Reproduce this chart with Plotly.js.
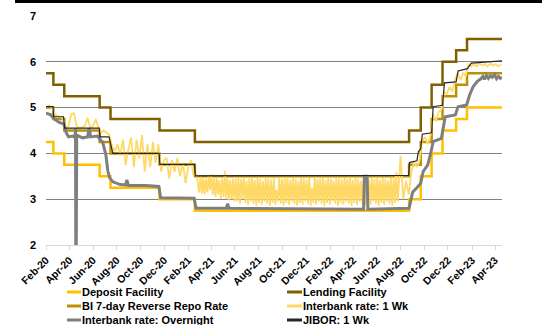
<!DOCTYPE html>
<html>
<head>
<meta charset="utf-8">
<script src="https://cdn.plot.ly/plotly-3.0.1.min.js"></script>
<style>html,body{margin:0;padding:0;background:#fff;}#chart{width:548px;height:325px;}</style>
</head>
<body>
<div id="chart"></div>
<script>
// ---- Policy rates (step changes) ----
const policyDates = ['2020-02-01','2020-02-20','2020-03-19','2020-06-18','2020-07-16','2020-11-19','2021-02-18','2022-08-23','2022-09-22','2022-10-20','2022-11-17','2022-12-22','2023-01-19','2023-04-19'];
const depositFacility = [4.25,4.00,3.75,3.50,3.25,3.00,2.75,3.00,3.50,4.00,4.50,4.75,5.00,5.00];
const lendingFacility = [5.75,5.50,5.25,5.00,4.75,4.50,4.25,4.50,5.00,5.50,6.00,6.25,6.50,6.50];
const reverseRepo    = [5.00,4.75,4.50,4.25,4.00,3.75,3.50,3.75,4.25,4.75,5.25,5.50,5.75,5.75];

// ---- Interbank rate: 1 Wk ----
const ib1wDates = [
'2020-02-03','2020-02-10','2020-02-17','2020-02-24',
'2020-03-02','2020-03-09','2020-03-16','2020-03-23','2020-03-30',
'2020-04-06','2020-04-13','2020-04-20','2020-04-27',
'2020-05-04','2020-05-11','2020-05-18','2020-05-25',
'2020-06-01','2020-06-08','2020-06-15','2020-06-22','2020-06-29',
'2020-07-06','2020-07-13','2020-07-20','2020-07-27',
'2020-08-03','2020-08-10','2020-08-17','2020-08-24','2020-08-31',
'2020-09-07','2020-09-14','2020-09-21','2020-09-28',
'2020-10-05','2020-10-12','2020-10-19','2020-10-26',
'2020-11-02','2020-11-09','2020-11-16','2020-11-23','2020-11-30',
'2020-12-07','2020-12-14','2020-12-21','2020-12-28',
'2021-01-04','2021-01-11','2021-01-18','2021-01-25',
'2021-02-01','2021-02-08','2021-02-15','2021-02-22',
'2021-03-01','2021-03-04','2021-03-08','2021-03-11','2021-03-15','2021-03-18','2021-03-22','2021-03-25','2021-03-29','2021-04-01',
'2021-04-05','2021-04-08','2021-04-12','2021-04-15','2021-04-19','2021-04-22','2021-04-26','2021-04-29',
'2021-05-03','2021-05-06','2021-05-10','2021-05-13','2021-05-17','2021-05-20','2021-05-24','2021-05-27','2021-05-31','2021-06-03',
'2021-06-07','2021-06-10','2021-06-14','2021-06-17','2021-06-21','2021-06-24','2021-06-28','2021-07-01',
'2021-07-05','2021-07-08','2021-07-12','2021-07-15','2021-07-19','2021-07-22','2021-07-26','2021-07-29',
'2021-08-02','2021-08-05','2021-08-09','2021-08-12','2021-08-16','2021-08-19','2021-08-23','2021-08-26','2021-08-30','2021-09-02',
'2021-09-06','2021-09-09','2021-09-13','2021-09-16','2021-09-20','2021-09-23','2021-09-27','2021-09-30',
'2021-10-04','2021-10-07','2021-10-11','2021-10-14','2021-10-18','2021-10-21','2021-10-25','2021-10-28',
'2021-11-01','2021-11-04','2021-11-08','2021-11-11','2021-11-15','2021-11-18','2021-11-22','2021-11-25','2021-11-29','2021-12-02',
'2021-12-06','2021-12-09','2021-12-13','2021-12-16','2021-12-20','2021-12-23','2021-12-27','2021-12-30',
'2022-01-03','2022-01-06','2022-01-10','2022-01-13','2022-01-17','2022-01-20','2022-01-24','2022-01-27','2022-01-31','2022-02-03',
'2022-02-07','2022-02-10','2022-02-14','2022-02-17','2022-02-21','2022-02-24','2022-02-28','2022-03-03',
'2022-03-07','2022-03-10','2022-03-14','2022-03-17','2022-03-21','2022-03-24','2022-03-28','2022-03-31',
'2022-04-04','2022-04-07','2022-04-11','2022-04-14','2022-04-18','2022-04-21','2022-04-25','2022-04-28',
'2022-05-02','2022-05-05','2022-05-09','2022-05-12','2022-05-16','2022-05-19','2022-05-23','2022-05-26','2022-05-30','2022-06-02',
'2022-06-06','2022-06-09','2022-06-13','2022-06-16','2022-06-20','2022-06-23','2022-06-27','2022-06-30',
'2022-07-04','2022-07-07','2022-07-11','2022-07-14','2022-07-18','2022-07-21','2022-07-25','2022-07-28',
'2022-08-01','2022-08-08','2022-08-15','2022-08-22','2022-08-29',
'2022-09-05','2022-09-12','2022-09-19','2022-09-26',
'2022-10-03','2022-10-10','2022-10-17','2022-10-24','2022-10-31',
'2022-11-07','2022-11-14','2022-11-21','2022-11-28',
'2022-12-05','2022-12-12','2022-12-19','2022-12-26',
'2023-01-02','2023-01-09','2023-01-16','2023-01-23','2023-01-30',
'2023-02-06','2023-02-13','2023-02-20','2023-02-27',
'2023-03-06','2023-03-13','2023-03-20','2023-03-27',
'2023-04-03','2023-04-10','2023-04-17'];
const ib1wValues = [
5.02,5.05,4.98,4.85,
4.82,4.80,4.75,4.55,4.60,
4.85,4.88,4.60,4.55,
4.58,4.60,4.78,4.55,
4.60,4.75,4.55,4.45,4.50,
4.45,4.40,4.15,4.05,
4.20,3.95,4.30,3.75,4.10,
4.35,3.70,4.30,3.90,
4.40,3.60,4.20,3.70,
4.25,3.80,4.20,3.60,3.85,
3.90,3.45,3.85,3.60,
3.90,3.50,3.80,3.35,
3.70,3.85,3.50,3.55,
3.15,3.50,3.12,3.48,3.10,3.45,3.15,3.50,3.20,3.55,
3.10,3.45,3.05,3.48,3.10,3.42,3.00,3.45,
3.05,3.62,3.00,3.45,2.98,3.42,3.00,3.45,2.95,3.45,
2.95,3.46,2.90,3.44,3.00,3.47,2.92,3.40,
2.88,3.45,2.95,3.48,2.90,3.42,2.86,3.46,
2.92,3.44,2.88,3.40,2.95,3.47,2.90,3.45,2.86,3.43,
2.92,3.46,2.88,3.20,2.95,3.47,2.90,3.44,
2.86,3.45,2.92,3.48,2.88,3.42,2.95,3.46,
2.90,3.44,2.86,3.40,2.92,3.47,2.88,3.45,2.95,3.43,
2.90,3.46,2.86,3.25,2.92,3.47,2.88,3.44,
2.95,3.45,2.90,3.48,2.86,3.42,2.92,3.46,2.88,3.44,
2.95,3.40,2.90,3.47,2.86,3.45,2.92,3.43,
2.88,3.46,2.95,3.44,2.90,3.48,2.86,3.42,
2.92,3.46,2.88,3.44,2.95,3.40,2.90,3.47,
2.86,3.45,2.92,3.43,2.88,3.46,2.95,3.44,2.90,3.48,
2.86,3.42,2.92,3.46,2.88,3.44,2.95,3.40,
2.90,3.47,2.86,3.45,2.92,3.60,2.95,3.30,
3.95,3.00,3.40,3.10,3.60,
3.80,3.70,3.85,4.30,
4.35,4.20,4.40,4.85,4.70,
4.90,4.95,5.35,5.30,
5.45,5.35,5.60,5.75,
5.60,5.75,5.70,5.95,5.90,
5.95,5.90,5.97,5.92,
5.95,5.90,5.96,5.92,
5.95,5.90,5.95];

// ---- Interbank rate: Overnight ----
const onDates = ['2020-02-01','2020-02-12','2020-02-21','2020-03-05','2020-03-18','2020-03-24','2020-03-30','2020-04-10','2020-04-16','2020-04-17','2020-04-18','2020-04-20','2020-05-05','2020-05-18','2020-05-22','2020-05-26','2020-06-12','2020-06-19','2020-06-26','2020-07-04','2020-07-09','2020-07-14','2020-07-22','2020-08-10','2020-08-24','2020-08-27','2020-08-31','2020-10-15','2020-11-17','2020-11-22','2021-02-16','2021-02-21','2021-05-10','2021-05-13','2021-05-17','2022-04-28','2022-04-30','2022-05-07','2022-05-09','2022-08-23','2022-08-27','2022-09-01','2022-09-12','2022-09-22','2022-09-28','2022-10-10','2022-10-18','2022-10-24','2022-11-14','2022-11-18','2022-11-24','2022-12-20','2022-12-27','2023-01-18','2023-01-26','2023-02-04','2023-02-14','2023-02-25','2023-03-01','2023-03-05','2023-03-10','2023-03-15','2023-03-20','2023-03-25','2023-03-31','2023-04-05','2023-04-10','2023-04-15','2023-04-19'];
const onValues = [4.88,4.85,4.76,4.68,4.64,4.45,4.36,4.38,4.34,4.55,0,4.40,4.34,4.36,4.55,4.36,4.38,4.30,4.24,3.97,3.62,3.46,3.38,3.32,3.31,3.42,3.30,3.30,3.28,3.03,3.02,2.80,2.80,2.90,2.80,2.78,3.50,3.50,2.78,2.80,2.95,3.15,3.25,3.35,3.60,3.75,4.02,4.26,4.33,4.55,4.80,4.84,5.02,5.06,5.28,5.46,5.57,5.64,5.68,5.62,5.70,5.64,5.70,5.66,5.72,5.63,5.68,5.64,5.66];

// ---- JIBOR: 1 Wk ----
const jiborDates = ['2020-02-01','2020-02-19','2020-02-21','2020-03-17','2020-03-20','2020-06-17','2020-06-19','2020-07-12','2020-07-22','2020-11-18','2020-11-20','2021-02-17','2021-02-19','2022-08-22','2022-08-24','2022-09-12','2022-09-16','2022-09-22','2022-09-26','2022-10-20','2022-10-24','2022-11-17','2022-11-22','2022-12-22','2022-12-27','2023-01-20','2023-01-30','2023-04-19'];
const jiborValues = [5.02,5.02,4.80,4.80,4.55,4.55,4.36,4.36,4.00,4.00,3.76,3.76,3.51,3.52,3.80,3.84,4.04,4.10,4.42,4.45,5.02,5.05,5.54,5.56,5.80,5.85,5.97,6.02];

// ---- Axis labels ----
const tickDates = ['2020-02-01','2020-04-01','2020-06-01','2020-08-01','2020-10-01','2020-12-01','2021-02-01','2021-04-01','2021-06-01','2021-08-01','2021-10-01','2021-12-01','2022-02-01','2022-04-01','2022-06-01','2022-08-01','2022-10-01','2022-12-01','2023-02-01','2023-04-01'];
const tickLabels = ['Feb-20','Apr-20','Jun-20','Aug-20','Oct-20','Dec-20','Feb-21','Apr-21','Jun-21','Aug-21','Oct-21','Dec-21','Feb-22','Apr-22','Jun-22','Aug-22','Oct-22','Dec-22','Feb-23','Apr-23'];
const seriesNames = ['Deposit Facility','Lending Facility','BI 7-day Reverse Repo Rate','Interbank rate: 1 Wk','Interbank rate: Overnight','JIBOR: 1 Wk'];

const colors = ['#FFC000','#7F6000','#BF9000','#FFD966','#7F7F7F','#262626'];
const widths = [2.5,2.5,2.5,1.8,3,1.2];
const FONT = 'Liberation Sans, Arial, sans-serif';

const traces = [
  {x: policyDates, y: depositFacility, line:{shape:'hv'}},
  {x: policyDates, y: lendingFacility, line:{shape:'hv'}},
  {x: policyDates, y: reverseRepo, line:{shape:'hv'}},
  {x: ib1wDates, y: ib1wValues, line:{}},
  {x: onDates, y: onValues, line:{}},
  {x: jiborDates, y: jiborValues, line:{}}
].map((t,i)=>{
  t.type='scatter'; t.mode='lines'; t.name=seriesNames[i];
  t.line.color=colors[i]; t.line.width=widths[i];
  t.showlegend=false; t.hoverinfo='skip';
  return t;
});

// manual legend (two columns, three rows) in paper coords
const L = 46, PW = 456, PB = 245, PH = 229;
const px2x = v => (v - L) / PW;
const px2y = v => (PB - v) / PH;
const legendPos = [
  {sx:67, tx:81, y:292}, {sx:287, tx:302, y:292},
  {sx:67, tx:81, y:306}, {sx:287, tx:302, y:306},
  {sx:67, tx:81, y:320}, {sx:287, tx:302, y:320}
];
const shapes = [
  {type:'line', xref:'paper', yref:'paper', x0:px2x(15), x1:px2x(542), y0:px2y(1.5), y1:px2y(1.5), line:{color:'#000', width:3}}
];
const annotations = [];
legendPos.forEach((p,i)=>{
  shapes.push({type:'line', xref:'paper', yref:'paper', x0:px2x(p.sx), x1:px2x(p.tx), y0:px2y(p.y), y1:px2y(p.y), line:{color:colors[i], width:3}});
  annotations.push({xref:'paper', yref:'paper', x:px2x(p.tx), y:px2y(p.y), xanchor:'left', yanchor:'middle', xshift:-1, showarrow:false, text:seriesNames[i], font:{family:FONT, size:11, color:'#000', weight:'bold'}});
});

const layout = {
  width:548, height:325,
  margin:{l:46, r:46, t:16, b:80},
  paper_bgcolor:'#fff', plot_bgcolor:'#fff',
  showlegend:false,
  xaxis:{type:'date', range:['2020-02-01','2023-04-19'], tickvals:tickDates, ticktext:tickLabels, tickangle:-45,
         showgrid:false, showline:true, linecolor:'#d9d9d9', linewidth:1, ticks:'outside', ticklen:4, tickcolor:'#d9d9d9',
         tickfont:{family:FONT, size:10.5, color:'#000', weight:'bold'}, zeroline:false, fixedrange:true},
  yaxis:{range:[2,7], tickvals:[2,3,4,5,6,7], showgrid:true, gridcolor:'#808080', gridwidth:1, zeroline:false, showline:false,
         ticks:'', ticklabelstandoff:9, tickfont:{family:FONT, size:11, color:'#000', weight:'bold'}, fixedrange:true},
  shapes: shapes,
  annotations: annotations
};

Plotly.newPlot('chart', traces, layout, {displayModeBar:false, staticPlot:true});
</script>
</body>
</html>
